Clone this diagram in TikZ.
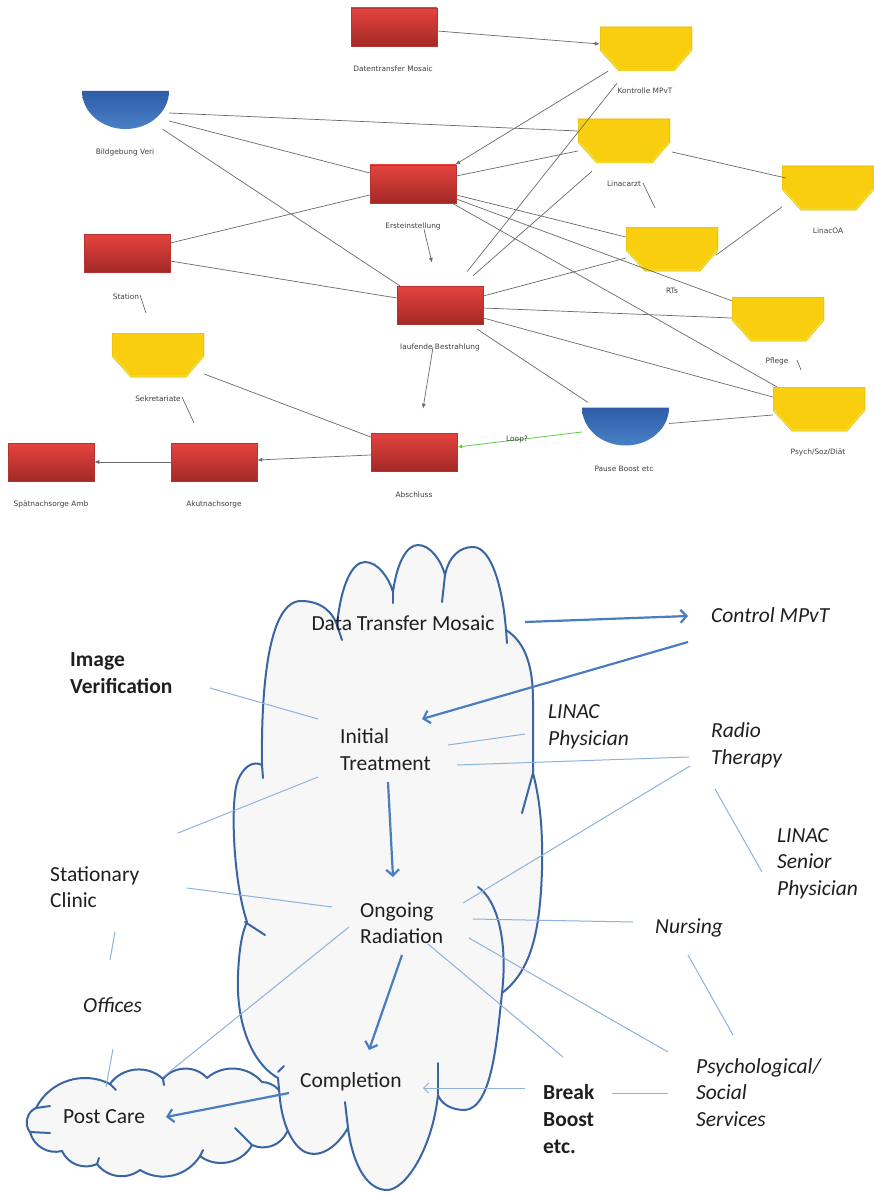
\documentclass[tikz,border=0pt]{standalone}
\usepackage{fontspec}
\setmainfont{Carlito}
\newfontfamily\smallfont{DejaVu Sans}
\usetikzlibrary{arrows.meta,calc}
\definecolor{rtop}{HTML}{E5433F}
\definecolor{rbot}{HTML}{A32926}
\definecolor{rdraw}{HTML}{B53330}
\definecolor{yfill}{HTML}{F9CE0E}
\definecolor{yedge}{HTML}{E3B200}
\definecolor{ylite}{HTML}{EEE03A}
\definecolor{btop}{HTML}{2D5DA7}
\definecolor{bbot}{HTML}{4A80C6}
\definecolor{cloudc}{HTML}{3A65A3}
\definecolor{arrc}{HTML}{4A7CC2}
\definecolor{thinc}{HTML}{8DB2DE}
\definecolor{cfill}{HTML}{F7F7F7}
\definecolor{grayl}{HTML}{6A6A6A}
\definecolor{greenl}{HTML}{5CCB4A}
\definecolor{labc}{HTML}{404040}
\tikzset{
 redbox/.style={rectangle, minimum width=86pt, minimum height=38pt, inner sep=0pt, top color=rtop, bottom color=rbot, draw=rdraw, line width=0.5pt},
 ybox/.style={rectangle, minimum width=92pt, minimum height=44pt, inner sep=0pt, fill=white, path picture={
   \fill[yfill, draw=yedge, line width=0.8pt] (path picture bounding box.north west) -- (path picture bounding box.north east) -- ([yshift=21pt]path picture bounding box.south east) -- ([xshift=-18pt]path picture bounding box.south east) -- ([xshift=19pt]path picture bounding box.south west) -- ([yshift=21pt]path picture bounding box.south west) -- cycle;
   \draw[ylite, line width=1.4pt] ([yshift=21pt,xshift=-1pt]path picture bounding box.south east) -- ([xshift=-18pt,yshift=1pt]path picture bounding box.south east) -- ([xshift=19pt,yshift=1pt]path picture bounding box.south west) -- ([yshift=21pt,xshift=1pt]path picture bounding box.south west);
 }},
 bowl/.style={rectangle, minimum width=87pt, minimum height=38pt, inner sep=0pt, fill=white, path picture={
   \shade[top color=btop, bottom color=bbot] (path picture bounding box.north west) arc[start angle=180, end angle=360, x radius=43.5pt, y radius=38pt] -- cycle;
 }},
 tlab/.style={font=\smallfont\fontsize{7.4}{9}\selectfont, text=labc, inner sep=0pt, anchor=base},
 gl/.style={draw=grayl, line width=0.7pt},
 garr/.style={gl, -{Latex[length=5pt,width=4pt]}},
 grarr/.style={draw=greenl, line width=0.8pt, -{Latex[length=5pt,width=4pt]}},
 lab/.style={font=\fontsize{21.5}{26}\selectfont, text=black!88, inner sep=0pt, anchor=base west},
 labi/.style={lab, font=\fontsize{21.5}{26}\selectfont\itshape},
 labb/.style={lab, font=\fontsize{21.5}{26}\selectfont\bfseries},
 tline/.style={draw=thinc, line width=1pt},
 tarr/.style={draw=arrc, line width=2.2pt, -{Straight Barb[length=6pt,width=13pt]}},
 tarrs/.style={draw=thinc, line width=1pt, -{Straight Barb[length=5pt,width=10pt]}},
 cloudp/.style={draw=cloudc, line width=2pt, fill=cfill, line join=round},
 hook/.style={draw=cloudc, line width=2pt, line cap=round},
}
\begin{document}
\begin{tikzpicture}[x=1pt,y=1pt]
\fill[white] (0,0) rectangle (874,-1193);
\useasboundingbox (0,0) rectangle (874,-1193);

% ---------------- top diagram: nodes ----------------
\node[redbox] (dtm) at (394,-27) {};
\node[redbox] (ers) at (413,-184) {};
\node[redbox] (sta) at (127,-253) {};
\node[redbox] (lb) at (440,-305) {};
\node[redbox] (abs) at (414,-452) {};
\node[redbox] (akut) at (214,-462) {};
\node[redbox] (spaet) at (51,-462) {};

\node[ybox] (kon) at (646,-49) {};
\node[ybox] (lin) at (624,-141) {};
\node[ybox] (loa) at (828,-188) {};
\node[ybox] (rts) at (672,-249) {};
\node[ybox] (pfl) at (778,-319) {};
\node[ybox] (psy) at (819,-409) {};
\node[ybox] (sek) at (158,-355) {};

\node[bowl] (bild) at (125.5,-110) {};
\node[bowl] (pause) at (625.5,-426.5) {};

% labels
\node[tlab] (ldtm) at (393,-72) {Datentransfer Mosaic};
\node[tlab] (lkon) at (645,-94) {Kontrolle MPvT};
\node[tlab] (lbild) at (125,-155) {Bildgebung Veri};
\node[tlab] (lers) at (413,-228) {Ersteinstellung};
\node[tlab] (llin) at (624,-186) {Linacarzt};
\node[tlab] (lloa) at (828,-233) {LinacOA};
\node[tlab] (lrts) at (672,-293) {RTs};
\node[tlab] (lsta) at (126,-299) {Station};
\node[tlab] (llb) at (440,-349) {laufende Bestrahlung};
\node[tlab] (lpfl) at (777,-363) {Pflege};
\node[tlab] (lsek) at (158,-401) {Sekretariate};
\node[tlab] (lpsy) at (818,-454) {Psych/Soz/Diät};
\node[tlab] (lpause) at (624,-471) {Pause Boost etc};
\node[tlab] (labs) at (414,-497) {Abschluss};
\node[tlab] (lakut) at (214,-506) {Akutnachsorge};
\node[tlab] (lspaet) at (51,-506) {Spätnachsorge Amb};

\coordinate (tlin) at (655,-208);
\coordinate (tsta) at (146,-313);
\coordinate (tsek) at (194,-423);
\coordinate (tpfl) at (801,-370);

% ---------------- top diagram: connectors ----------------
\draw[garr] ([yshift=-4pt]dtm.east) -- ([yshift=5pt]kon.west);
\draw[garr] ([xshift=-38pt]kon.south) -- ([xshift=42pt]ers.north);
\draw[gl] ([yshift=-3pt]bild.east) -- ([yshift=10pt]lin.west);
\draw[gl] ([yshift=-11pt]bild.east) -- ([yshift=11pt]ers.west);
\draw[gl] ([xshift=37pt]bild.south) -- ([xshift=3pt]lb.north west);
\draw[gl] ([yshift=10pt]sta.east) -- ([yshift=-11pt]ers.west);
\draw[gl] ([yshift=-8pt]sta.east) -- ([yshift=7pt]lb.west);
\draw[gl] ([yshift=8pt]ers.east) -- ([yshift=-10pt]lin.west);
\draw[gl] ([yshift=-11pt]ers.east) -- ([yshift=12pt]rts.west);
\draw[gl] ([yshift=-15pt]ers.east) -- ([yshift=-4pt]pfl.north west);
\draw[gl] ([xshift=-4pt]ers.south east) -- ([xshift=4pt]psy.north west);
\draw[gl] ([shift={(27,14)}]lb.north) -- ([shift={(-29,-12)}]kon.south);
\draw[gl] ([shift={(33,10)}]lb.north) -- ([shift={(-32,-8)}]lin.south);
\draw[garr] ([shift={(11,-26)}]ers.south) -- ([shift={(-8,23)}]lb.north);
\draw[garr] ([shift={(-7,-23)}]lb.south) -- ([shift={(9,24)}]abs.north);
\draw[gl] ([yshift=9pt]lb.east) -- ([yshift=-9pt]rts.west);
\draw[gl] ([yshift=-3pt]lb.east) -- ([yshift=1pt]pfl.west);
\draw[gl] ([yshift=-13pt]lb.east) -- ([yshift=12pt]psy.west);
\draw[gl] ([shift={(-6,-5)}]lb.south east) -- ([shift={(6,5)}]pause.north west);
\draw[grarr] ([yshift=-5.5pt]pause.west) -- node[tlab, anchor=base, pos=0.52, yshift=-2pt] (lloop) {Loop?} ([yshift=5pt]abs.east);
\draw[gl] ([yshift=3pt]pause.east) -- ([yshift=-6pt]psy.west);
\draw[gl] ([shift={(2,-11)}]lin.east) -- ([shift={(4,10)}]loa.west);
\draw[gl] ([shift={(-2,-6)}]rts.east) -- ([yshift=-19pt]loa.west);
\draw[gl] ([yshift=-19pt]sek.east) -- ([yshift=15pt]abs.west);
\draw[garr] ([yshift=-3pt]abs.west) -- ([yshift=2pt]akut.east);
\draw[garr] (akut.west) -- (spaet.east);
\draw[gl] ([shift={(19,3)}]llin.base) -- (tlin);
\draw[gl] ([shift={(14,4)}]lsta.base) -- (tsta);
\draw[gl] ([shift={(24,4)}]lsek.base) -- (tsek);
\draw[gl] ([shift={(20,3)}]lpfl.base) -- (tpfl);

% ---------------- bottom: clouds ----------------
\draw[cloudp] (30,-1132) to[bend left=55] (36,-1108) to[bend left=45] (110,-1084)
  to[bend left=50] (163,-1079) to[bend left=50] (207,-1078) to[bend left=45] (262,-1082)
  to[bend left=45] (284,-1105) to[bend left=45] (287,-1132) to[bend left=45] (252,-1145)
  to[bend left=50] (200,-1156) to[bend left=45] (140,-1170) to[bend left=45] (97,-1164)
  to[bend left=45] (62,-1151) to[bend left=45] (30,-1132) -- cycle;
\draw[hook] (36,-1108) -- (50,-1106);
\draw[hook] (110,-1084) -- (116,-1090);
\draw[hook] (163,-1079) -- (164,-1085);
\draw[hook] (252,-1145) -- (235,-1128);
\draw[hook] (200,-1156) -- (203,-1150);
\draw[hook] (97,-1164) -- (99,-1158);
\draw[hook] (30,-1132) -- (50,-1133);

\draw[cloudp] (262,-765)
 .. controls (261,-690) and (268,-601) .. (301,-601)
 .. controls (322,-601) and (333,-613) .. (337,-625)
 .. controls (341,-585) and (352,-562) .. (365,-562)
 .. controls (378,-562) and (389,-578) .. (393,-592)
 .. controls (397,-562) and (407,-545) .. (418,-545)
 .. controls (430,-545) and (441,-560) .. (445,-575)
 .. controls (449,-556) and (460,-547) .. (473,-547)
 .. controls (492,-547) and (503,-590) .. (506,-630)
 .. controls (522,-640) and (533,-660) .. (533,-700)
 -- (533,-773)
 .. controls (540,-800) and (543,-830) .. (542,-870)
 .. controls (540,-930) and (532,-970) .. (502,-993)
 .. controls (497,-1040) and (492,-1108) .. (465,-1110)
 .. controls (450,-1110) and (441,-1103) .. (438,-1095)
 .. controls (432,-1150) and (405,-1190) .. (387,-1190)
 .. controls (365,-1190) and (352,-1160) .. (348,-1128)
 .. controls (335,-1150) and (318,-1158) .. (305,-1152)
 .. controls (292,-1145) and (283,-1125) .. (280,-1100)
 -- (278,-1078)
 .. controls (250,-1062) and (236,-1020) .. (238,-975)
 .. controls (239,-950) and (242,-932) .. (247,-922)
 .. controls (233,-880) and (230,-800) .. (238,-780)
 .. controls (243,-768) and (252,-760) .. (262,-765)
 -- cycle;
\draw[hook] (262,-765) -- (263,-778);
\draw[hook] (337,-625) -- (342,-640);
\draw[hook] (393,-592) -- (393,-603);
\draw[hook] (445,-575) -- (442,-602);
\draw[hook] (506,-630) -- (507,-643);
\draw[hook] (533,-773) -- (522,-813);
\draw[hook] (478,-887) .. controls (497,-900) and (508,-940) .. (502,-993);
\draw[hook] (438,-1095) -- (438,-1063);
\draw[hook] (348,-1128) -- (345,-1102);
\draw[hook] (245,-922) -- (265,-935);
\draw[hook] (278,-1072) -- (284,-1066);

% ---------------- bottom: labels ----------------
\node[lab, anchor=base] (dtmL) at (403,-630) {Data Transfer Mosaic};
\node[labi] (ctl) at (711,-622) {Control MPvT};
\node[labb] (iv1) at (70,-666) {Image};
\node[labb] (iv2) at (70,-693) {Verification};
\node[lab] (it1) at (340,-743) {Initial};
\node[lab] (it2) at (340,-770) {Treatment};
\node[labi] (lp1) at (548,-718) {LINAC};
\node[labi] (lp2) at (548,-745) {Physician};
\node[labi] (rt1) at (711,-737) {Radio};
\node[labi] (rt2) at (711,-764) {Therapy};
\node[labi] (ls1) at (777,-842) {LINAC};
\node[labi] (ls2) at (777,-868) {Senior};
\node[labi] (ls3) at (777,-895) {Physician};
\node[lab] (sc1) at (50,-881) {Stationary};
\node[lab] (sc2) at (50,-907) {Clinic};
\node[lab] (or1) at (360,-917) {Ongoing};
\node[lab] (or2) at (360,-943) {Radiation};
\node[labi] (nur) at (655,-933) {Nursing};
\node[labi] (off) at (83,-1012) {Offices};
\node[lab] (cmp) at (300,-1087) {Completion};
\node[lab] (pc) at (63,-1123) {Post Care};
\node[labb] (bb1) at (543,-1099) {Break};
\node[labb] (bb2) at (543,-1126) {Boost};
\node[labb] (bb3) at (543,-1153) {etc.};
\node[labi] (ps1) at (696,-1073) {Psychological/};
\node[labi] (ps2) at (696,-1099) {Social};
\node[labi] (ps3) at (696,-1126) {Services};

% ---------------- bottom: connectors ----------------
\draw[tline] ([shift={(140,5)}]iv2.base west) -- ([shift={(-22,24)}]it1.base west);
\draw[tline] ([shift={(-22,-7)}]it2.base west) -- ([shift={(128,48)}]sc1.base west);
\draw[tline] ([shift={(108,-2)}]it1.base west) -- ([shift={(-23,11)}]lp2.base west);
\draw[tline] ([shift={(117,5)}]it2.base west) -- ([shift={(-22,7)}]rt2.base west);
\draw[tline] ([shift={(-21,-2)}]rt2.base west) -- ([shift={(103,14)}]or1.base west);
\draw[tline] ([shift={(4,-25)}]rt2.base west) -- ([shift={(-15,-4)}]ls2.base west);
\draw[tline] ([shift={(137,-7)}]sc1.base west) -- ([shift={(-28,10)}]or1.base west);
\draw[tline] ([shift={(-11,16)}]or2.base west) -- ([shift={(100,46)}]pc.base west);
\draw[tline] ([shift={(65,-25)}]sc2.base west) -- ([shift={(27,52)}]off.base west);
\draw[tline] ([shift={(30,-37)}]off.base west) -- ([shift={(43,36)}]pc.base west);
\draw[tline] ([shift={(113,-2)}]or1.base west) -- ([shift={(-22,11)}]nur.base west);
\draw[tline] ([shift={(109,5)}]or2.base west) -- ([shift={(-28,21)}]ps1.base west);
\draw[tline] ([shift={(68,-1)}]or2.base west) -- ([shift={(20,42)}]bb1.base west);
\draw[tline] ([shift={(33,-22)}]nur.base west) -- ([shift={(37,38)}]ps1.base west);
\draw[tarrs] ([shift={(-18,11)}]bb1.base west) -- ([shift={(123,-1)}]cmp.base west);
\draw[tline] ([shift={(69,6)}]bb1.base west) -- ([shift={(-28,6)}]ps2.base west);

\draw[tarr] ([shift={(122,8)}]dtmL.base) -- ([shift={(-23,6)}]ctl.base west);
\draw[tarr] ([shift={(-23,-20)}]ctl.base west) -- ([shift={(82,24)}]it1.base west);
\draw[tarr] ([shift={(48,-12)}]it2.base west) -- ([shift={(33,40)}]or1.base west);
\draw[tarr] ([shift={(42,-12)}]or2.base west) -- ([shift={(69,37)}]cmp.base west);
\draw[tarr] ([shift={(-11,-6)}]cmp.base west) -- ([shift={(103,6)}]pc.base west);
\end{tikzpicture}
\end{document}
